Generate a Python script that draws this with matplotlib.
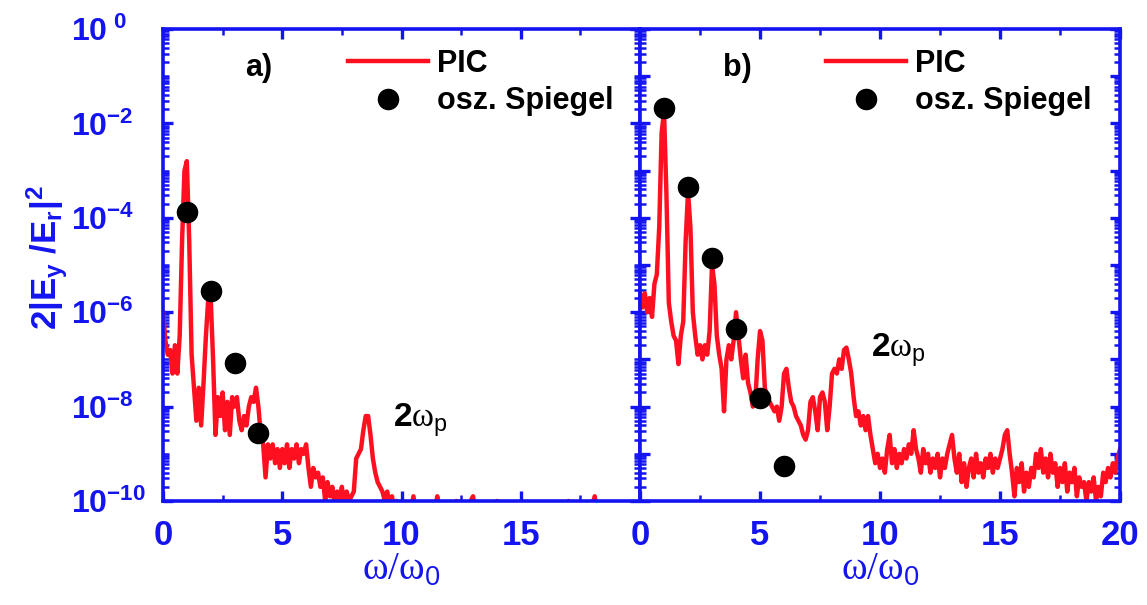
import numpy as np
import matplotlib
matplotlib.use('Agg')
import matplotlib.pyplot as plt
from matplotlib.ticker import MultipleLocator, LogLocator, FixedLocator, NullFormatter

plt.rcParams['font.family'] = ['Liberation Sans', 'DejaVu Sans']
plt.rcParams['mathtext.fontset'] = 'custom'
plt.rcParams['mathtext.rm'] = 'Liberation Serif'
plt.rcParams['mathtext.bf'] = 'Liberation Sans:bold'
plt.rcParams['mathtext.sf'] = 'Liberation Sans'
plt.rcParams['mathtext.it'] = 'Liberation Sans:italic'

BLUE = '#1414f0'
RED = '#ff1020'

# PIC spectra, log10 of 2|Ey/Er|^2, sampled every 0.1 in omega/omega0 (0 .. 20)
step = 0.1
pic_a = [
    -6.0, -6.6, -6.9, -6.8, -7.3, -6.7, -7.3, -6.5, -4.5, -3.0,
    -2.8, -4.5, -6.9, -7.6, -8.3, -7.6, -8.4, -7.5, -6.5, -5.7,
    -5.7, -7.0, -8.6, -7.8, -8.2, -7.7, -8.5, -7.9, -8.6, -7.8,
    -8.0, -7.8, -8.3, -8.5, -8.2, -8.4, -8.0, -7.8, -7.9, -7.6,
    -8.0, -8.6, -8.8, -9.5, -8.8, -9.1, -8.8, -9.2, -8.9, -9.3,
    -8.9, -9.2, -8.8, -9.3, -8.9, -9.1, -8.8, -9.2, -8.9, -9.0,
    -8.8, -9.3, -9.7, -9.3, -9.5, -9.4, -9.7, -9.5, -10.0, -9.6,
    -9.9, -9.7, -10.1, -9.8, -10.0, -9.7, -10.1, -9.8, -10.0, -9.9,
    -9.8, -9.1, -9.0, -8.9, -8.5, -8.2, -8.2, -8.6, -9.1, -9.4,
    -9.6, -9.7, -9.8, -10.0, -9.8, -10.1, -9.9, -10.2, -10.0, -10.3,
    -10.2, -10.4, -10.3, -10.5, -10.2, -9.9, -10.3, -10.1, -10.4, -10.5,
    -10.3, -10.5, -10.4, -10.6, -10.2, -9.9, -10.4, -10.6, -10.5, -10.6,
    -10.4, -10.6, -10.3, -10.0, -10.4, -10.6, -10.5, -10.4, -10.2, -10.0,
    -9.9, -10.3, -10.6, -10.5, -10.7, -10.5, -10.6, -10.4, -10.3, -10.1,
    -10.0, -10.4, -10.6, -10.7, -10.5, -10.7, -10.6, -10.8, -10.6, -10.7,
    -10.5, -10.7, -10.6, -10.8, -10.6, -10.7, -10.5, -10.7, -10.6, -10.8,
    -10.6, -10.7, -10.5, -10.7, -10.6, -10.8, -10.5, -10.4, -10.2, -10.1,
    -10.0, -10.4, -10.6, -10.7, -10.5, -10.7, -10.6, -10.8, -10.5, -10.3,
    -10.1, -9.9, -10.3, -10.6, -10.7, -10.6, -10.8, -10.6, -10.7, -10.5,
    -10.7, -10.6, -10.8, -10.6, -10.7, -10.5, -10.7, -10.6, -10.8, -10.6,
    -10.7,
]
pic_b = [
    -5.6, -5.9, -5.6, -6.0, -5.7, -6.1, -5.4, -5.2, -4.2, -2.2,
    -1.75, -3.5, -5.8, -6.2, -6.5, -6.6, -7.1, -6.5, -6.2, -4.5,
    -3.45, -4.2, -6.0, -6.5, -6.9, -6.7, -7.0, -6.7, -6.9, -6.4,
    -5.0, -5.4, -6.5, -6.9, -7.2, -8.1, -7.0, -6.7, -7.0, -6.6,
    -6.0, -6.5, -7.0, -7.4, -6.9, -7.5, -7.7, -8.0, -7.9, -7.0,
    -6.4, -6.6, -7.6, -7.8, -7.9, -8.0, -8.1, -8.0, -8.3, -8.0,
    -7.3, -7.2, -7.6, -7.9, -8.0, -8.2, -8.3, -8.4, -8.6, -8.7,
    -8.5, -7.9, -7.8, -8.1, -8.5, -7.8, -7.7, -7.9, -8.5, -8.0,
    -7.3, -7.2, -7.3, -7.0, -7.2, -6.8, -6.75, -7.0, -7.3, -7.8,
    -8.2, -8.1, -8.4, -8.2, -8.5, -8.2, -8.6, -8.9, -9.2, -9.0,
    -9.3, -9.1, -9.4, -8.9, -8.6, -9.2, -8.9, -9.3, -9.0, -9.2,
    -8.9, -9.1, -8.8, -9.0, -8.5, -8.9, -9.1, -9.4, -8.9, -9.2,
    -9.0, -9.4, -9.1, -9.3, -9.0, -9.5, -9.1, -9.3, -9.0, -8.8,
    -8.6, -9.1, -9.4, -9.0, -9.6, -9.2, -9.7, -9.3, -9.1, -9.5,
    -9.0, -9.4, -9.2, -9.5, -9.1, -9.3, -9.0, -9.4, -9.1, -9.3,
    -9.1, -8.9, -8.6, -8.5, -9.0, -9.4, -9.9, -9.3, -9.6, -9.2,
    -9.8, -9.4, -9.7, -9.3, -9.5, -9.0, -9.3, -8.9, -9.4, -9.1,
    -9.5, -9.0, -9.4, -9.2, -9.7, -9.3, -9.6, -9.2, -9.8, -9.4,
    -9.6, -9.3, -9.9, -9.5, -9.7, -9.6, -10.0, -9.6, -9.8, -9.5,
    -10.0, -9.7, -9.9, -9.4, -9.6, -9.3, -9.5, -9.2, -9.4, -9.1,
    -8.9,
]

# oscillating mirror model (harmonic orders)
osz_a_x = [1, 2, 3, 4]
osz_a_y = [1.3e-4, 2.8e-6, 8.5e-8, 2.7e-9]
osz_b_x = [1, 2, 3, 4, 5, 6]
osz_b_y = [2.1e-2, 4.6e-4, 1.4e-5, 4.4e-7, 1.5e-8, 5.5e-10]

ytick_pos = [1e0, 1e-2, 1e-4, 1e-6, 1e-8, 1e-10]
ytick_lab = [r'$\mathbf{10^{\ 0}}$', r'$\mathbf{10^{-2}}$', r'$\mathbf{10^{-4}}$',
             r'$\mathbf{10^{-6}}$', r'$\mathbf{10^{-8}}$', r'$\mathbf{10^{-10}}$']


def style_axes(ax, xticks, show_ylabels):
    ax.set_yscale('log')
    ax.set_xlim(0, 20)
    ax.set_ylim(1e-10, 1e0)
    for s in ax.spines.values():
        s.set_color(BLUE)
        s.set_linewidth(2.6)
    ax.xaxis.set_major_locator(FixedLocator(xticks))
    ax.xaxis.set_minor_locator(MultipleLocator(2.5))
    ax.yaxis.set_major_locator(LogLocator(base=10, numticks=20))
    ax.yaxis.set_minor_locator(LogLocator(base=10, subs=np.arange(2, 10), numticks=20))
    ax.yaxis.set_minor_formatter(NullFormatter())
    ax.tick_params(which='both', direction='in', top=True, right=True, color=BLUE)
    ax.tick_params(which='major', length=7, width=2.4)
    ax.tick_params(which='minor', length=4, width=1.8)
    ax.tick_params(axis='x', which='major', labelsize=25, labelcolor=BLUE, pad=13)
    for lab in ax.get_xticklabels():
        lab.set_fontweight('bold')
    if show_ylabels:
        ax.set_yticks(ytick_pos)
        ax.set_yticklabels(ytick_lab)
        ax.yaxis.set_minor_locator(LogLocator(base=10, subs=np.arange(1, 10), numticks=20))
        ax.tick_params(axis='y', which='major', labelsize=23, labelcolor=BLUE, pad=66)
        for lab in ax.get_yticklabels():
            lab.set_horizontalalignment('left')
    else:
        ax.yaxis.set_major_formatter(NullFormatter())
    ax.set_xlabel(r'ω/ω$_{\mathsf{0}}$', family='Liberation Serif', fontsize=28,
                  color=BLUE, labelpad=0)


fig = plt.figure(figsize=(11.47, 6.05), dpi=100)
ax1 = fig.add_axes([0.1421, 0.1719, 0.558 - 0.1421, 0.9521 - 0.1719])
ax2 = fig.add_axes([0.558, 0.1719, 0.9765 - 0.558, 0.9521 - 0.1719])

panels = [
    (ax1, pic_a, osz_a_x, osz_a_y, 'a)', [0, 5, 10, 15], True, (0.482, 0.157)),
    (ax2, pic_b, osz_b_x, osz_b_y, 'b)', [0, 5, 10, 15, 20], False, (0.482, 0.305)),
]
for ax, pic, ox, oy, tag, xt, showy, wp in panels:
    freq = np.arange(len(pic)) * step
    ax.plot(freq, 10.0 ** np.array(pic), color=RED, lw=3.2, label='PIC', zorder=2)
    ax.plot(ox, oy, 'o', color='black', ms=14.5, label='osz. Spiegel', zorder=3)
    style_axes(ax, xt, showy)
    ax.text(0.172, 0.9, tag, transform=ax.transAxes, fontsize=22, fontweight='bold')
    ax.text(wp[0], wp[1], r'$\mathbf{2}$ω$_{\mathsf{p}}$', transform=ax.transAxes,
            family='Liberation Serif', fontsize=24)
    ax.legend(loc='upper left', bbox_to_anchor=(0.388, 0.958), frameon=False,
              prop={'weight': 'bold', 'size': 22}, handlelength=2.6,
              handletextpad=0.3, labelspacing=0.25, borderaxespad=0, borderpad=0)

fig.text(0.041, 0.575, r'$\mathbf{2|E_y\ /E_r|^2}$', rotation=90, color=BLUE,
         fontsize=25, ha='center', va='center')

fig.savefig('out.png', dpi=100)
